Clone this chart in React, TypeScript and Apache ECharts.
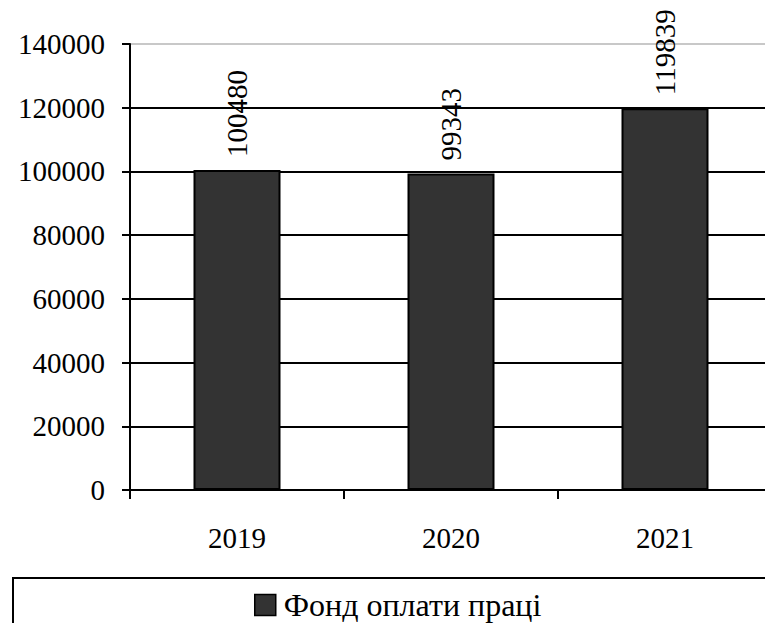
import React, { useEffect, useRef } from "react";
import * as echarts from "echarts";

// Payroll fund by year
const years = ["2019", "2020", "2021"];
const payroll = [100480, 99343, 119839];
const seriesName = "Фонд оплати праці";
const yMin = 0;
const yMax = 140000;
const yStep = 20000;

const FONT = "Liberation Serif, Times New Roman, serif";

export default function App() {
  const ref = useRef<HTMLDivElement>(null);

  useEffect(() => {
    if (!ref.current) return;
    const chart = echarts.init(ref.current, null, { renderer: "svg" });
    chart.setOption({
      animation: false,
      backgroundColor: "#ffffff",
      textStyle: { fontFamily: FONT },
      grid: {
        left: 130,
        top: 44,
        right: -7,
        bottom: 133,
        containLabel: false,
        outerBoundsMode: "none",
      },
      xAxis: {
        type: "category",
        data: years,
        axisLine: { lineStyle: { color: "#000", width: 2 } },
        axisTick: { show: true, length: 9, lineStyle: { color: "#000", width: 2 } },
        axisLabel: { color: "#000", fontFamily: FONT, fontSize: 29, margin: 33 },
        splitLine: { show: false },
      },
      yAxis: {
        type: "value",
        min: yMin,
        max: yMax,
        interval: yStep,
        axisLine: { show: true, lineStyle: { color: "#000", width: 2 } },
        axisTick: { show: true, length: 8, lineStyle: { color: "#000", width: 2 } },
        axisLabel: {
          color: "#000",
          fontFamily: FONT,
          fontSize: 29,
          margin: 25,
          formatter: (v: number) => String(v),
        },
        splitLine: {
          show: true,
          lineStyle: {
            color: ["#000", "#000", "#000", "#000", "#000", "#000", "#000", "#c8c8c8"],
            width: 2,
          },
        },
      },
      legend: {
        show: true,
        left: 249,
        top: 584,
        itemWidth: 21,
        itemHeight: 21,
        icon: "rect",
        itemStyle: { color: "#333333", borderColor: "#000", borderWidth: 1.5 },
        textStyle: { color: "#000", fontFamily: FONT, fontSize: 32, padding: [0, 0, 0, 3] },
        data: [seriesName],
      },
      graphic: [
        {
          type: "rect",
          shape: { x: 13, y: 578, width: 800, height: 100 },
          style: { fill: "none", stroke: "#000", lineWidth: 2 },
          z: -1,
        },
      ],
      series: [
        {
          name: seriesName,
          type: "bar",
          data: payroll,
          barWidth: 87,
          itemStyle: { color: "#333333", borderColor: "#000", borderWidth: 2 },
          label: {
            show: true,
            position: "top",
            rotate: 90,
            align: "left",
            verticalAlign: "middle",
            distance: 13,
            color: "#000",
            fontFamily: FONT,
            fontSize: 29,
          },
        },
      ],
    });
    return () => chart.dispose();
  }, []);

  return (
    <div
      ref={ref}
      style={{ position: "absolute", left: 0, top: 0, width: 765, height: 623 }}
    />
  );
}
